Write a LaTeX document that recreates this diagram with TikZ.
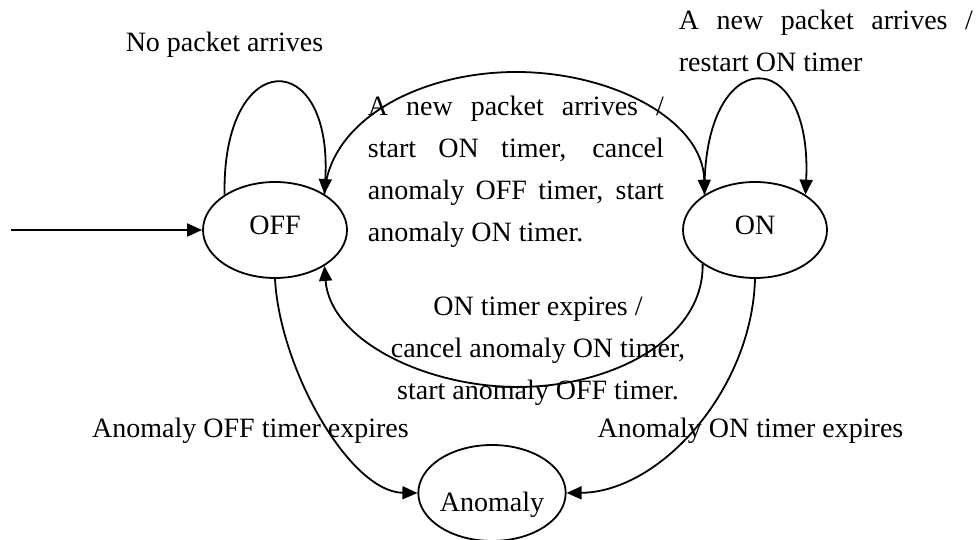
\documentclass[tikz,border=0pt]{standalone}
\usepackage{fontspec}
\setmainfont{Liberation Serif}
\usetikzlibrary{arrows.meta,shapes.geometric}

\begin{document}
\begin{tikzpicture}[x=1pt,y=1pt,>={Triangle[length=15pt,width=13pt]},
                    line width=1.8pt,font=\fontsize{28}{42}\selectfont,
                    state node/.style={ellipse,draw,minimum width=144pt,minimum height=96pt,
                                       inner sep=0pt,text height=10pt,text depth=0pt},
                    edge label/.style={inner sep=0pt}]
  \useasboundingbox (0,0) rectangle (977,540);
  \node[state node] (off) at (275,310) {OFF};
  \node[state node] (on) at (755,310) {ON};
  \node[state node,text height=38pt] (anomaly) at (492,47) {Anomaly};
  \coordinate (init) at (11,310);

  \draw[->] (init) -- (off);
  \draw[->] (off.145) .. controls (222,494) and (333,494) .. (off.36);
  \draw[->] (on.145) .. controls (702,498) and (813,498) .. (on.35);
  \draw[->] (off.36) .. controls (329,420) and (420,468) .. (516,468)
                     .. controls (612,468) and (703,420) .. (on.145);
  \draw[->] (on.213) .. controls (704,200) and (610,153) .. (518,153)
                     .. controls (425,153) and (330,200) .. (off.324);
  \draw[->] (off.south) .. controls (280,170) and (350,48) .. (anomaly.west);
  \draw[->] (on.south) .. controls (752,150) and (660,48) .. (anomaly.east);

  \node[edge label,anchor=base] (noarrival) at (224.5,488) {No packet arrives};
  \node[edge label,anchor=base west,text width=294pt,align=justify] (restart) at (678,510)
    {A new packet arrives /\linebreak restart ON timer};
  \node[edge label,anchor=base west,text width=296pt,align=justify] (turnon) at (367,424)
    {A new packet arrives /\linebreak start ON timer, cancel\linebreak anomaly OFF timer, start\linebreak anomaly ON timer.};
  \node[edge label,anchor=base,align=center] (turnoff) at (538,140)
    {ON timer expires /\\cancel anomaly ON timer,\\start anomaly OFF timer.};
  \node[edge label,anchor=base] (offexpire) at (250.5,102) {Anomaly OFF timer expires};
  \node[edge label,anchor=base] (onexpire) at (750.5,102) {Anomaly ON timer expires};
\end{tikzpicture}
\end{document}
